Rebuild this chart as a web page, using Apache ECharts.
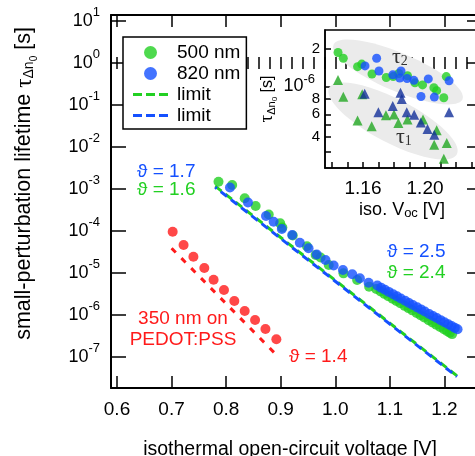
<!DOCTYPE html>
<html><head><meta charset="utf-8">
<script src="https://cdn.jsdelivr.net/npm/echarts@6/dist/echarts.min.js"></script>
<style>html,body{margin:0;padding:0;background:#fff}#c{width:475px;height:456px}</style>
</head><body><div id="c"></div>
<script>
// ---------- data (tau in seconds, Voc in volts) ----------
const redVoc = [0.702, 0.722, 0.740, 0.760, 0.777, 0.796, 0.815, 0.834, 0.853, 0.872, 0.892];
const redTau = [9.6e-5, 4.65e-5, 2.44e-5, 1.31e-5, 6.9e-6, 3.94e-6, 2.15e-6, 1.24e-6, 7.6e-7, 4.65e-7, 2.64e-7];
const redLimitVoc = [0.700, 0.894];
const redLimitTau = [3.9e-5, 1.06e-7];

const greenVoc = [0.786, 0.811, 0.834, 0.854, 0.878, 0.899, 0.903, 0.922, 0.948, 0.964, 0.973, 0.988, 1.015, 1.040, 1.062,
  1.075, 1.083, 1.090, 1.097, 1.105, 1.112, 1.119, 1.127, 1.134, 1.141, 1.149, 1.156, 1.163, 1.171, 1.178, 1.185, 1.192, 1.199, 1.205, 1.210, 1.214];
const greenTau = [1.49e-3, 1.24e-3, 6.0e-4, 3.94e-4, 2.47e-4, 1.52e-4, 1.21e-4, 7.8e-5, 4.33e-5, 2.69e-5, 2.34e-5, 1.55e-5, 9.8e-6, 6.8e-6, 4.72e-6,
  4.16e-6, 3.61e-6, 3.19e-6, 2.81e-6, 2.44e-6, 2.15e-6, 1.90e-6, 1.65e-6, 1.46e-6, 1.29e-6, 1.12e-6, 9.9e-7, 8.7e-7, 7.55e-7, 6.67e-7, 5.89e-7, 5.19e-7, 4.58e-7, 4.12e-7, 3.77e-7, 3.51e-7];

const blueVoc = [0.807, 0.840, 0.873, 0.887, 0.902, 0.921, 0.935, 0.951, 0.966, 0.982, 0.997, 1.014, 1.031, 1.045, 1.061, 1.077,
  1.084, 1.091, 1.098, 1.106, 1.113, 1.120, 1.128, 1.135, 1.142, 1.150, 1.157, 1.164, 1.172, 1.179, 1.186, 1.193, 1.200, 1.207, 1.213, 1.219, 1.224];
const blueTau = [1.09e-3, 4.78e-4, 2.28e-4, 1.66e-4, 1.12e-4, 8.0e-5, 5.26e-5, 3.87e-5, 2.75e-5, 2.04e-5, 1.51e-5, 1.18e-5, 9.3e-6, 7.5e-6, 5.87e-6, 5.04e-6,
  4.46e-6, 3.98e-6, 3.55e-6, 3.12e-6, 2.78e-6, 2.48e-6, 2.18e-6, 1.94e-6, 1.73e-6, 1.52e-6, 1.36e-6, 1.21e-6, 1.06e-6, 9.5e-7, 8.5e-7, 7.55e-7, 6.75e-7, 6.0e-7, 5.46e-7, 4.94e-7, 4.56e-7];

const greenLimitVoc = [0.780, 1.225];
const greenLimitTau = [1.17e-3, 3.4e-8];
const blueLimitVoc = [0.780, 1.223];
const blueLimitTau = [1.10e-3, 3.4e-8];

// inset (tau_2: circles, tau_1: triangles)
const insetGreenCircVoc = [1.1439, 1.1473, 1.1565, 1.1592, 1.1658, 1.1750, 1.1795, 1.1831, 1.1887, 1.1935, 1.1984, 1.2057, 1.2075, 1.2121, 1.2137];
const insetGreenCircTau = [1.87e-6, 1.68e-6, 1.44e-6, 1.51e-6, 1.26e-6, 1.18e-6, 1.20e-6, 1.27e-6, 1.22e-6, 1.07e-6, 1.03e-6, 9.77e-7, 9.27e-7, 8.13e-7, 1.20e-6];
const insetBlueCircVoc = [1.1613, 1.1688, 1.1703, 1.1792, 1.1845, 1.1837, 1.1884, 1.1928, 1.2021, 1.2155, 1.1974, 1.2060];
const insetBlueCircTau = [1.46e-6, 1.68e-6, 1.33e-6, 1.24e-6, 1.33e-6, 1.17e-6, 1.16e-6, 1.12e-6, 1.15e-6, 1.11e-6, 8.32e-7, 8.24e-7];
const insetGreenTriVoc = [1.1439, 1.1473, 1.1595, 1.1565, 1.1656, 1.1748, 1.1800, 1.1828, 1.1887, 1.1987, 1.2075, 1.2059, 1.2140, 1.2121];
const insetGreenTriTau = [1.13e-6, 8.28e-7, 8.69e-7, 5.36e-7, 4.81e-7, 5.90e-7, 5.98e-7, 5.12e-7, 5.46e-7, 5.46e-7, 4.48e-7, 3.43e-7, 3.54e-7, 2.65e-7];
const insetBlueTriVoc = [1.1611, 1.1842, 1.1850, 1.1792, 1.1699, 1.1882, 1.1930, 1.1973, 1.2016, 1.2060, 1.2155];
const insetBlueTriTau = [8.75e-7, 8.91e-7, 7.94e-7, 6.98e-7, 6.23e-7, 6.23e-7, 5.96e-7, 5.16e-7, 4.58e-7, 4.12e-7, 6.23e-7];

// tick values
const mainXTickLabels = [0.6, 0.7, 0.8, 0.9, 1.0, 1.1, 1.2];
const mainXMinorTicks = [0.60,0.62,0.64,0.66,0.68,0.70,0.72,0.74,0.76,0.78,0.80,0.82,0.84,0.86,0.88,0.90,0.92,0.94,0.96,0.98,1.00,1.02,1.04,1.06,1.08,1.10,1.12,1.14,1.16,1.18,1.20,1.22,1.24,1.26];
const mainYDecades = [1e-7, 1e-6, 1e-5, 1e-4, 1e-3, 1e-2, 1e-1, 1, 10];
const insetXTicks = [1.14, 1.15, 1.16, 1.17, 1.18, 1.19, 1.20, 1.21, 1.22, 1.23];
const insetXTickLabels = [1.16, 1.20];
const insetYTicks = [3e-7, 4e-7, 5e-7, 6e-7, 8e-7, 1e-6, 2e-6];
const insetYTickLabels = [4e-7, 6e-7, 8e-7, 1e-6, 2e-6];

// ---------- build ----------
const FONT = 'Liberation Sans';
const lg = v => Math.log10(v);
const pts = (xs, ys) => xs.map((x, i) => [x, lg(ys[i])]);
const GREEN = '#22d022', BLUE = '#1450ff', RED = '#ff1a1a';
const TRI_GREEN = '#22a822', TRI_BLUE = '#13309a';
const DASH_ICON = 'path://M0 0h9v3H0z M13 0h9v3h-9z M26 0h9v3h-9z';

const chart = echarts.init(document.getElementById('c'), null, {renderer: 'canvas'});

const noSplit = {show: false};
const blackLine = w => ({show: true, onZero: false, lineStyle: {color: '#000', width: w}});

function decadeLabel(v) {
  return '{b|10}{s|' + Math.round(v) + '}';
}
function insetLabel(v) {
  const e = Math.floor(v + 1e-9);
  const m = Math.round(Math.pow(10, v - e));
  if (m === 1) return '{b|10}{s|' + e + '}{p|}';
  return '{m|' + m + '}';
}

const xMinMain = 0.589, xMaxMain = 1.2633;
const yMinMain = -7.738, yMaxMain = 1.143;

const option = {
  animation: false,
  backgroundColor: '#fff',
  textStyle: {fontFamily: FONT},
  grid: [
    {left: 111, top: 15, right: -4, bottom: 68, show: false, containLabel: false, outerBoundsMode: 'none'},
    {left: 325, top: 30, right: -4, bottom: 288, show: true, borderColor: '#000', borderWidth: 1.5, backgroundColor: 'transparent',
      containLabel: false, outerBoundsMode: 'none'}
  ],
  legend: {
    data: [
      {name: '500 nm', icon: 'circle'},
      {name: '820 nm', icon: 'circle'},
      {name: 'limit 500', icon: DASH_ICON},
      {name: 'limit 820', icon: DASH_ICON}
    ],
    orient: 'vertical', left: 123, top: 37,
    padding: [5, 6, 3, 10], itemGap: 0, itemWidth: 35, itemHeight: 13,
    borderColor: '#000', borderWidth: 1.5, backgroundColor: '#fff', borderRadius: 0,
    selectedMode: false,
    textStyle: {fontSize: 19, fontFamily: FONT, color: '#000', lineHeight: 21, padding: [0, 0, 0, 4]},
    formatter: n => n.indexOf('limit') === 0 ? 'limit' : n
  },
  xAxis: [
    { // main bottom major
      type: 'value', gridIndex: 0, min: xMinMain, max: xMaxMain, position: 'bottom',
      axisLine: blackLine(2),
      axisTick: {show: true, inside: true, length: 12, lineStyle: {color: '#000', width: 1.5}, customValues: mainXTickLabels},
      axisLabel: {customValues: mainXTickLabels, formatter: v => v.toFixed(1), fontSize: 19, color: '#000', fontFamily: FONT, margin: 12},
      splitLine: noSplit,
      name: 'isothermal open-circuit voltage [V]', nameLocation: 'middle', nameGap: 52,
      nameTextStyle: {fontSize: 19.5, color: '#000', fontFamily: FONT, padding: [0, 10, 0, 0]}
    },
    { // main bottom minor
      type: 'value', gridIndex: 0, min: xMinMain, max: xMaxMain, position: 'bottom',
      axisLine: {show: false},
      axisTick: {show: true, inside: true, length: 6, lineStyle: {color: '#000', width: 1.5}, customValues: mainXMinorTicks},
      axisLabel: {show: false}, splitLine: noSplit
    },
    { // main top major
      type: 'value', gridIndex: 0, min: xMinMain, max: xMaxMain, position: 'top',
      axisLine: blackLine(2),
      axisTick: {show: true, inside: true, length: 12, lineStyle: {color: '#000', width: 1.5}, customValues: mainXTickLabels},
      axisLabel: {show: false}, splitLine: noSplit
    },
    { // main top minor
      type: 'value', gridIndex: 0, min: xMinMain, max: xMaxMain, position: 'top',
      axisLine: {show: false},
      axisTick: {show: true, inside: true, length: 6, lineStyle: {color: '#000', width: 1.5}, customValues: mainXMinorTicks},
      axisLabel: {show: false}, splitLine: noSplit
    },
    { // inset x
      type: 'value', gridIndex: 1, min: 1.1355, max: 1.2348, position: 'bottom',
      axisLine: blackLine(1.5),
      axisTick: {show: true, inside: true, length: 6, lineStyle: {color: '#000', width: 1.5}, customValues: insetXTicks},
      axisLabel: {customValues: insetXTickLabels, formatter: v => v.toFixed(2), fontSize: 19, color: '#000', fontFamily: FONT, margin: 11},
      splitLine: noSplit,
      name: 'iso. V{s|oc} [V]', nameLocation: 'middle', nameGap: 32,
      nameTextStyle: {fontSize: 18, color: '#000', fontFamily: FONT, padding: [0, 0, 0, 0],
        rich: {s: {fontSize: 13, fontFamily: FONT, color: '#000', padding: [7, 0, 0, 0]}}}
    }
  ],
  yAxis: [
    { // main left
      type: 'value', gridIndex: 0, min: yMinMain, max: yMaxMain, position: 'left',
      axisLine: blackLine(2),
      axisTick: {show: true, inside: true, length: 15, lineStyle: {color: '#000', width: 1.5}, customValues: mainYDecades.map(lg)},
      axisLabel: {customValues: mainYDecades.map(lg), formatter: decadeLabel, margin: 11, color: '#000',
        rich: {b: {fontSize: 18, fontFamily: FONT, color: '#000'},
               s: {fontSize: 13, fontFamily: FONT, color: '#000', padding: [0, 0, 18, 0]}}},
      splitLine: noSplit,
      name: 'small-perturbation lifetime {t|τ}{s|Δn}{ss|0} [s]', nameLocation: 'middle', nameGap: 72,
      nameTextStyle: {fontSize: 21.5, color: '#000', fontFamily: FONT, padding: [0, 0, 0, 36],
        rich: {t: {fontSize: 23, fontFamily: 'Liberation Serif', color: '#000'},
               s: {fontSize: 14, fontFamily: FONT, color: '#000', padding: [10, 0, 0, 0]},
               ss: {fontSize: 10, fontFamily: FONT, color: '#000', padding: [19, 0, 0, 0]}}}
    },
    { // main right
      type: 'value', gridIndex: 0, min: yMinMain, max: yMaxMain, position: 'right',
      axisLine: blackLine(2),
      axisTick: {show: true, inside: true, length: 12, lineStyle: {color: '#000', width: 1.5}, customValues: mainYDecades.map(lg)},
      axisLabel: {show: false}, splitLine: noSplit
    },
    { // inset y
      type: 'value', gridIndex: 1, min: -6.650, max: -5.549, position: 'left',
      axisLine: blackLine(1.5),
      axisTick: {show: true, inside: true, length: 6, lineStyle: {color: '#000', width: 1.5}, customValues: insetYTicks.map(lg)},
      axisLabel: {customValues: insetYTickLabels.map(lg), formatter: insetLabel, margin: 5, color: '#000',
        rich: {b: {fontSize: 18, fontFamily: FONT, color: '#000'},
               s: {fontSize: 13, fontFamily: FONT, color: '#000', padding: [0, 0, 14, 0]},
               p: {width: 5},
               m: {fontSize: 15, fontFamily: FONT, color: '#000'}}},
      splitLine: noSplit,
      name: '{t|τ}{s|Δn}{ss|0} [s]', nameLocation: 'middle', nameGap: 46,
      nameTextStyle: {fontSize: 16, color: '#000', fontFamily: FONT, padding: [0, 0, 0, 0],
        rich: {t: {fontSize: 19, fontFamily: 'Liberation Serif', color: '#000'},
               s: {fontSize: 11, fontFamily: FONT, color: '#000', padding: [8, 0, 0, 0]},
               ss: {fontSize: 8, fontFamily: FONT, color: '#000', padding: [15, 0, 0, 0]}}}
    }
  ],
  series: [
    {name: 'limit 500', type: 'line', xAxisIndex: 0, yAxisIndex: 0, symbol: 'none', data: pts(greenLimitVoc, greenLimitTau),
      lineStyle: {color: GREEN, width: 3, type: [8, 5]}, itemStyle: {color: GREEN}, z: 2},
    {name: 'limit 820', type: 'line', xAxisIndex: 0, yAxisIndex: 0, symbol: 'none', data: pts(blueLimitVoc, blueLimitTau),
      lineStyle: {color: BLUE, width: 3, type: [8, 5], dashOffset: 6}, itemStyle: {color: BLUE}, z: 2},
    {name: '350 nm limit', type: 'line', xAxisIndex: 0, yAxisIndex: 0, symbol: 'none', data: pts(redLimitVoc, redLimitTau),
      lineStyle: {color: RED, width: 3, type: [6, 8]}, itemStyle: {color: RED}, z: 2},
    {name: '350 nm on PEDOT:PSS', type: 'scatter', xAxisIndex: 0, yAxisIndex: 0, symbol: 'circle', symbolSize: 10,
      data: pts(redVoc, redTau), itemStyle: {color: RED}, z: 3},
    {name: '500 nm', type: 'scatter', xAxisIndex: 0, yAxisIndex: 0, symbol: 'circle', symbolSize: 10,
      data: pts(greenVoc, greenTau), itemStyle: {color: GREEN}, z: 3},
    {name: '820 nm', type: 'scatter', xAxisIndex: 0, yAxisIndex: 0, symbol: 'circle', symbolSize: 10,
      data: pts(blueVoc, blueTau), itemStyle: {color: BLUE}, z: 4},
    {name: 'inset 500 tau2', type: 'scatter', xAxisIndex: 4, yAxisIndex: 2, symbol: 'circle', symbolSize: 9,
      data: pts(insetGreenCircVoc, insetGreenCircTau), itemStyle: {color: GREEN}, z: 3},
    {name: 'inset 820 tau2', type: 'scatter', xAxisIndex: 4, yAxisIndex: 2, symbol: 'circle', symbolSize: 9,
      data: pts(insetBlueCircVoc, insetBlueCircTau), itemStyle: {color: BLUE}, z: 4},
    {name: 'inset 500 tau1', type: 'scatter', xAxisIndex: 4, yAxisIndex: 2, symbol: 'triangle', symbolSize: 10,
      data: pts(insetGreenTriVoc, insetGreenTriTau), itemStyle: {color: TRI_GREEN}, z: 3},
    {name: 'inset 820 tau1', type: 'scatter', xAxisIndex: 4, yAxisIndex: 2, symbol: 'triangle', symbolSize: 10,
      data: pts(insetBlueTriVoc, insetBlueTriTau), itemStyle: {color: TRI_BLUE}, z: 4}
  ],
  graphic: [
    {type: 'ellipse', shape: {cx: 0, cy: 0, rx: 70, ry: 19}, x: 398, y: 72, rotation: -0.40, style: {fill: '#ebebeb'}, z: 1, silent: true},
    {type: 'ellipse', shape: {cx: 0, cy: 0, rx: 72, ry: 22}, x: 393, y: 121, rotation: -0.48, style: {fill: '#ebebeb'}, z: 1, silent: true},
    {type: 'text', x: 392, y: 57, z: 5, style: {text: '{t|τ}{s|2}', verticalAlign: 'middle', rich: {
      t: {fontSize: 22, fontFamily: 'Liberation Serif', fill: '#333'}, s: {fontSize: 14, fontFamily: 'Liberation Serif', fill: '#333', padding: [8, 0, 0, 0]}}}},
    {type: 'text', x: 396, y: 137, z: 5, style: {text: '{t|τ}{s|1}', verticalAlign: 'middle', rich: {
      t: {fontSize: 22, fontFamily: 'Liberation Serif', fill: '#333'}, s: {fontSize: 14, fontFamily: 'Liberation Serif', fill: '#333', padding: [8, 0, 0, 0]}}}},
    {type: 'text', x: 137, y: 172, z: 5, style: {text: 'ϑ = 1.7', fill: BLUE, fontSize: 19, fontFamily: FONT, verticalAlign: 'middle'}},
    {type: 'text', x: 137, y: 190, z: 5, style: {text: 'ϑ = 1.6', fill: GREEN, fontSize: 19, fontFamily: FONT, verticalAlign: 'middle'}},
    {type: 'text', x: 387, y: 252, z: 5, style: {text: 'ϑ = 2.5', fill: BLUE, fontSize: 19, fontFamily: FONT, verticalAlign: 'middle'}},
    {type: 'text', x: 387, y: 273, z: 5, style: {text: 'ϑ = 2.4', fill: GREEN, fontSize: 19, fontFamily: FONT, verticalAlign: 'middle'}},
    {type: 'text', x: 289, y: 357, z: 5, style: {text: 'ϑ = 1.4', fill: RED, fontSize: 19, fontFamily: FONT, verticalAlign: 'middle'}},
    {type: 'text', x: 183, y: 329.5, z: 5, style: {text: '350 nm on\nPEDOT:PSS', fill: RED, fontSize: 19, lineHeight: 21, fontFamily: FONT, align: 'center', verticalAlign: 'middle'}}
  ]
};
chart.setOption(option);
</script></body></html>
